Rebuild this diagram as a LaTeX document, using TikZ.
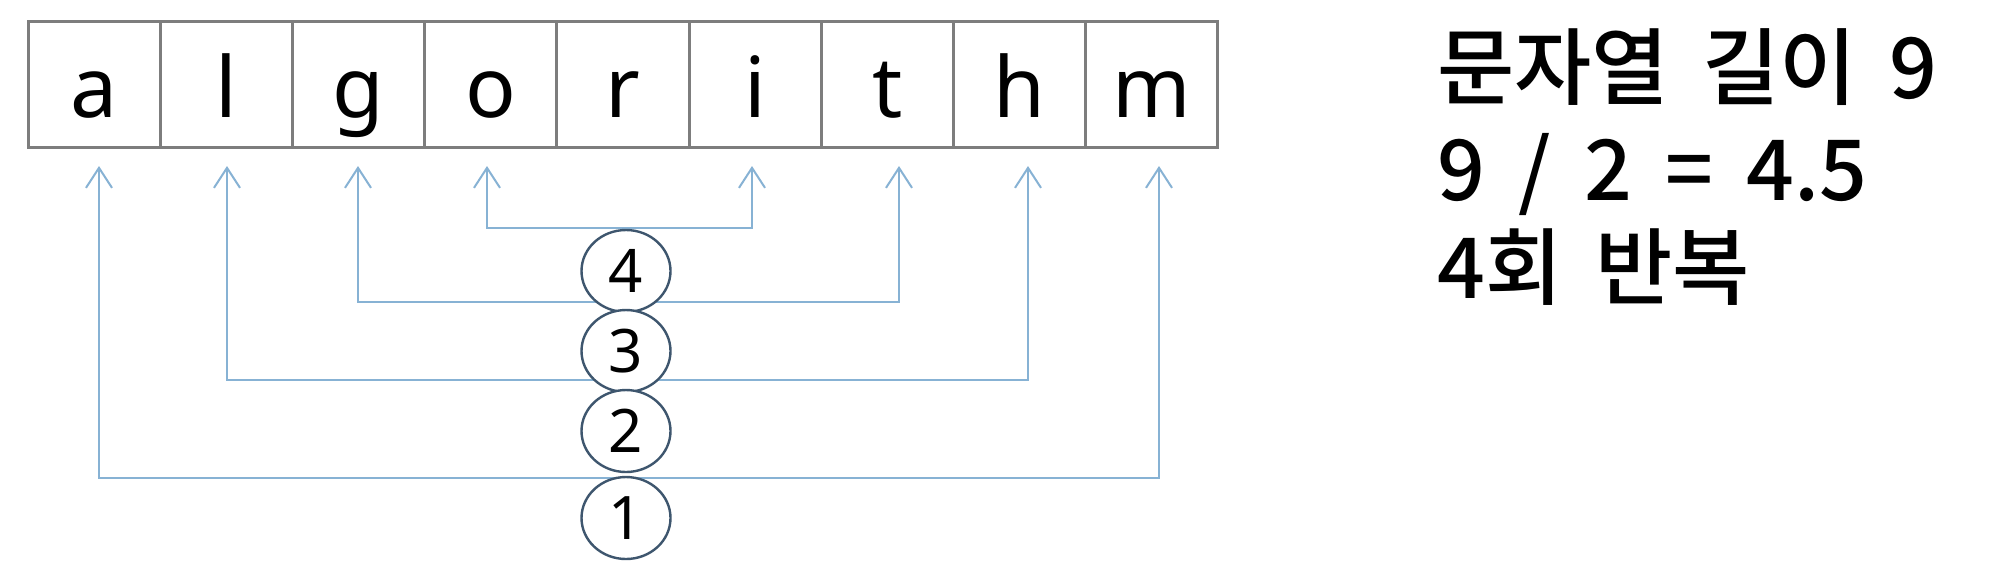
\documentclass[tikz,border=0pt]{standalone}
\usepackage{fontspec}
\setmainfont{Noto Sans}
\newfontfamily\kor[WordSpace=1.75,BoldFont={Noto Sans CJK KR Medium}]{Noto Sans CJK KR}
\usetikzlibrary{arrows.meta,shapes.geometric}
\definecolor{cellgray}{RGB}{125,125,125}
\definecolor{linkblue}{RGB}{135,178,212}
\definecolor{ringblue}{RGB}{62,86,110}
\begin{document}
\begin{tikzpicture}[x=0.5pt,y=-0.5pt,
  cell/.style={draw=cellgray,line width=1.5pt,minimum width=66.1pt,minimum height=63pt,
    inner sep=0pt,text height=36pt,text depth=3pt,font=\fontsize{42pt}{42pt}\selectfont},
  link/.style={draw=linkblue,line width=1pt,
    {Straight Barb[length=10pt,width=13pt]}-{Straight Barb[length=10pt,width=13pt]}},
  ring/.style={ellipse,draw=ringblue,line width=1.2pt,fill=white,minimum width=44.5pt,
    minimum height=41pt,inner sep=0pt,text height=21.5pt,text depth=0pt,
    font=\fontsize{30pt}{30pt}\selectfont},
  info/.style={anchor=base west,inner sep=0pt,font=\kor\bfseries\fontsize{42pt}{48pt}\selectfont}]
\useasboundingbox[fill=white] (0,0) rectangle (2000,570);
% cells
\foreach \ch [count=\i] in {a,l,g,o,r,i,t,h,m}
  \node[cell] (c\i) at ({28+132.22*(\i-0.5)},84) {\ch};
% arrow tips
\coordinate (ta) at (99,166);
\coordinate (tl) at (227,166);
\coordinate (tg) at (358,166);
\coordinate (to) at (487,166);
\coordinate (ti) at (752,166);
\coordinate (tt) at (899,166);
\coordinate (th) at (1028,166);
\coordinate (tm) at (1159,166);
% levels
\coordinate (lv4) at (0,228);
\coordinate (lv3) at (0,302);
\coordinate (lv2) at (0,380);
\coordinate (lv1) at (0,478);
% links
\draw[link] (to) -- (to |- lv4) -- (ti |- lv4) -- (ti);
\draw[link] (tg) -- (tg |- lv3) -- (tt |- lv3) -- (tt);
\draw[link] (tl) -- (tl |- lv2) -- (th |- lv2) -- (th);
\draw[link] (ta) -- (ta |- lv1) -- (tm |- lv1) -- (tm);
% rings
\node[ring] (r4) at (626,271) {4};
\node[ring] (r3) at (626,351) {3};
\node[ring] (r2) at (626,431) {2};
\node[ring] (r1) at (626,518) {1};
% info text
\node[info] (t1) at (1437,98) {문자열 길이 9};
\node[info] (t2) at (1437,200) {9 / 2 = 4.5};
\node[info] (t3) at (1437,298) {4회 반복};
\end{tikzpicture}
\end{document}
